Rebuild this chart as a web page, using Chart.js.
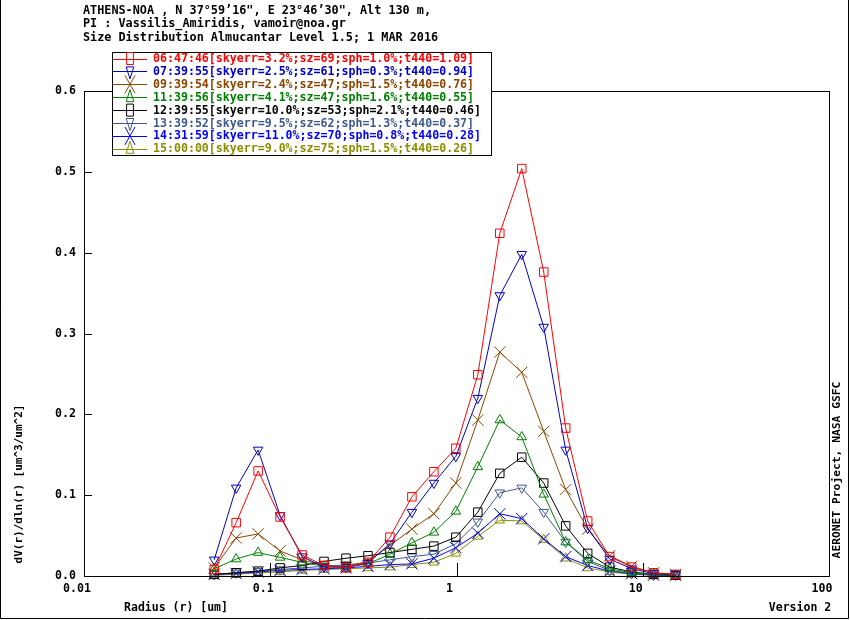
<!DOCTYPE html>
<html><head><meta charset="utf-8">
<script src="https://cdn.jsdelivr.net/npm/chart.js@4.4.0/dist/chart.umd.min.js"></script>
<style>html,body{margin:0;padding:0;background:#fff}canvas{display:block}</style>
</head><body>
<canvas id="c" width="850" height="620"></canvas>
<script>
const radius = [0.05, 0.065604, 0.086077, 0.112939, 0.148184, 0.194429, 0.255105, 0.334716, 0.439173, 0.576227, 0.756052, 0.991996, 1.301571, 1.707757, 2.240702, 2.939966, 3.857452, 5.061260, 6.640745, 8.713145, 11.432287, 15.0];

const seriesLabels = [
  "06:47:46[skyerr=3.2%;sz=69;sph=1.0%;t440=1.09]",
  "07:39:55[skyerr=2.5%;sz=61;sph=0.3%;t440=0.94]",
  "09:39:54[skyerr=2.4%;sz=47;sph=1.5%;t440=0.76]",
  "11:39:56[skyerr=4.1%;sz=47;sph=1.6%;t440=0.55]",
  "12:39:55[skyerr=10.0%;sz=53;sph=2.1%;t440=0.46]",
  "13:39:52[skyerr=9.5%;sz=62;sph=1.3%;t440=0.37]",
  "14:31:59[skyerr=11.0%;sz=70;sph=0.8%;t440=0.28]",
  "15:00:00[skyerr=9.0%;sz=75;sph=1.5%;t440=0.26]"
];

const s064746 = [0.008, 0.066, 0.130, 0.073, 0.026, 0.013, 0.010, 0.017, 0.048, 0.098, 0.129, 0.158, 0.249, 0.424, 0.504, 0.376, 0.183, 0.068, 0.024, 0.011, 0.004, 0.002];
const s073955 = [0.020, 0.109, 0.156, 0.075, 0.024, 0.011, 0.011, 0.016, 0.040, 0.079, 0.115, 0.148, 0.220, 0.347, 0.398, 0.308, 0.156, 0.059, 0.021, 0.009, 0.003, 0.002];
const s093954 = [0.010, 0.047, 0.052, 0.031, 0.020, 0.013, 0.012, 0.018, 0.038, 0.058, 0.077, 0.115, 0.193, 0.277, 0.252, 0.179, 0.107, 0.058, 0.025, 0.012, 0.004, 0.002];
const s113956 = [0.009, 0.021, 0.029, 0.023, 0.017, 0.012, 0.011, 0.015, 0.027, 0.041, 0.054, 0.080, 0.135, 0.193, 0.172, 0.101, 0.042, 0.020, 0.009, 0.004, 0.002, 0.001];
const s123955 = [0.002, 0.004, 0.006, 0.010, 0.013, 0.018, 0.022, 0.025, 0.029, 0.033, 0.037, 0.048, 0.079, 0.127, 0.147, 0.115, 0.062, 0.028, 0.011, 0.005, 0.002, 0.001];
const s133952 = [0.002, 0.004, 0.006, 0.008, 0.010, 0.012, 0.014, 0.016, 0.020, 0.024, 0.027, 0.040, 0.067, 0.103, 0.109, 0.079, 0.042, 0.018, 0.007, 0.003, 0.001, 0.001];
const s143159 = [0.002, 0.003, 0.005, 0.007, 0.008, 0.009, 0.010, 0.012, 0.014, 0.015, 0.022, 0.035, 0.053, 0.077, 0.071, 0.046, 0.024, 0.013, 0.006, 0.003, 0.001, 0.001];
const s150000 = [0.001, 0.002, 0.004, 0.005, 0.007, 0.008, 0.009, 0.010, 0.011, 0.014, 0.017, 0.028, 0.049, 0.069, 0.068, 0.045, 0.022, 0.010, 0.005, 0.002, 0.001, 0.0005];

const seriesValues = [s064746, s073955, s093954, s113956, s123955, s133952, s143159, s150000];
const seriesColors = ["#ff0000", "#0000c0", "#8c4600", "#008000", "#000000", "#405890", "#0000ff", "#8c8c00"];
const seriesMarkers = ["rect", "invtri", "x", "tri", "rect", "invtri", "x", "tri"];

const xTickValues = [0.01, 0.1, 1, 10, 100];
const xTickLabels = ["0.01", "0.1", "1", "10", "100"];

const titleLines = [
  "ATHENS-NOA , N 37\u00b059\u201916\", E 23\u00b046\u201930\", Alt 130 m,",
  "PI : Vassilis_Amiridis, vamoir@noa.gr",
  "Size Distribution Almucantar Level 1.5; 1 MAR 2016"
];

const FONT = "'DejaVu Sans Mono', 'Liberation Mono', monospace";

function styleFor(m) {
  if (m === "rect") return {pointStyle: "rect", rot: 0, r: 6};
  if (m === "invtri") return {pointStyle: "triangle", rot: 180, r: 5.5};
  if (m === "tri") return {pointStyle: "triangle", rot: 0, r: 5.5};
  return {pointStyle: "crossRot", rot: 0, r: 8};
}

const datasets = seriesValues.map((vals, k) => {
  const st = styleFor(seriesMarkers[k]);
  return {
    label: seriesLabels[k],
    data: radius.map((r, i) => ({x: r, y: vals[i]})),
    borderColor: seriesColors[k],
    backgroundColor: "rgba(0,0,0,0)",
    borderWidth: 1,
    pointStyle: st.pointStyle,
    pointRotation: st.rot,
    pointRadius: st.r,
    pointBorderWidth: 1,
    pointBorderColor: seriesColors[k],
    pointBackgroundColor: "rgba(0,0,0,0)",
    tension: 0,
    fill: false,
    clip: false
  };
});

function drawMarker(ctx, m, x, y, sx, sy) {
  ctx.beginPath();
  if (m === "rect") {
    ctx.rect(x - 4 * sx, y - 4 * sy, 8 * sx, 8 * sy);
  } else if (m === "tri" || m === "invtri") {
    const d = m === "tri" ? 1 : -1;
    ctx.moveTo(x, y - d * 5 * sy);
    ctx.lineTo(x - 4.5 * sx, y + d * 3 * sy);
    ctx.lineTo(x + 4.5 * sx, y + d * 3 * sy);
    ctx.closePath();
  } else {
    ctx.moveTo(x - 6 * sx, y - 6 * sy); ctx.lineTo(x + 6 * sx, y + 6 * sy);
    ctx.moveTo(x + 6 * sx, y - 6 * sy); ctx.lineTo(x - 6 * sx, y + 6 * sy);
  }
  ctx.stroke();
}

const decorPlugin = {
  id: "decor",
  afterDraw(chart) {
    const ctx = chart.ctx;
    const a = chart.chartArea;
    const xs = chart.scales.x, ys = chart.scales.y;
    ctx.save();
    ctx.strokeStyle = "#000";
    ctx.lineWidth = 1;
    // outer frame
    ctx.beginPath();
    ctx.moveTo(0.5, 0); ctx.lineTo(0.5, 618.5); ctx.lineTo(848.5, 618.5); ctx.lineTo(848.5, 0);
    ctx.stroke();
    // plot frame
    ctx.strokeRect(Math.round(a.left) + 0.5, Math.round(a.top) + 0.5, Math.round(a.right - a.left), Math.round(a.bottom - a.top));
    // inward ticks
    ctx.beginPath();
    ys.ticks.forEach(t => {
      const py = Math.round(ys.getPixelForValue(t.value)) + 0.5;
      ctx.moveTo(a.left, py); ctx.lineTo(a.left + 8, py);
    });
    xTickValues.forEach(v => {
      const px = Math.round(xs.getPixelForValue(v)) + 0.5;
      ctx.moveTo(px, a.bottom); ctx.lineTo(px, a.bottom - 13);
    });
    ctx.stroke();

    ctx.fillStyle = "#000";
    ctx.textBaseline = "middle";
    ctx.textAlign = "left";
    ctx.font = "bold 11.8px " + FONT;
    titleLines.forEach((t, i) => ctx.fillText(t, 83, 10.5 + i * 13.6));

    // axis titles
    ctx.font = "bold 11.5px " + FONT;
    ctx.textAlign = "center";
    ctx.fillText("Radius (r) [um]", 176, 608);
    ctx.fillText("Version 2", 800, 608);
    ctx.save();
    ctx.translate(19, 484);
    ctx.rotate(-Math.PI / 2);
    ctx.font = "bold 11px " + FONT;
    ctx.fillText("dV(r)/dln(r) [um^3/um^2]", 0, 0);
    ctx.restore();
    ctx.save();
    ctx.translate(837, 470);
    ctx.rotate(-Math.PI / 2);
    ctx.font = "bold 11.3px " + FONT;
    ctx.fillText("AERONET Project, NASA GSFC", 0, 0);
    ctx.restore();

    // legend
    const bx = 112, by = 52, bw = 379, bh = 103;
    ctx.fillStyle = "#fff";
    ctx.fillRect(bx, by, bw, bh);
    ctx.strokeStyle = "#000";
    ctx.strokeRect(bx + 0.5, by + 0.5, bw, bh);
    ctx.font = "bold 11.6px " + FONT;
    ctx.textAlign = "left";
    chart.data.datasets.forEach((ds, k) => {
      const y = 58.5 + k * 12.9;
      const col = seriesColors[k];
      ctx.strokeStyle = col;
      ctx.lineWidth = 1;
      ctx.beginPath();
      ctx.moveTo(bx + 1, Math.round(y) + 0.5); ctx.lineTo(147, Math.round(y) + 0.5);
      ctx.stroke();
      drawMarker(ctx, seriesMarkers[k], 130, y, 0.85, 1.5);
      ctx.fillStyle = col;
      ctx.fillText(ds.label, 153, y + 0.5);
    });
    ctx.restore();
  }
};

new Chart(document.getElementById("c"), {
  type: "line",
  data: {datasets},
  options: {
    responsive: false,
    animation: false,
    devicePixelRatio: 1,
    layout: {padding: {top: 91, right: 21, left: 0, bottom: 0}},
    plugins: {legend: {display: false}, tooltip: {enabled: false}},
    scales: {
      x: {
        type: "logarithmic",
        min: 0.01, max: 100,
        afterBuildTicks: s => { s.ticks = xTickValues.map(v => ({value: v, major: true})); },
        afterFit: s => { s.height = 44; },
        grid: {display: false, drawTicks: false},
        border: {display: false},
        ticks: {
          callback: (v, i) => xTickLabels[i],
          font: {family: FONT, size: 11.6, weight: "bold"},
          color: "#000", padding: 6, maxRotation: 0, autoSkip: false, labelOffset: -7
        }
      },
      y: {
        type: "linear",
        min: 0, max: 0.6,
        afterFit: s => { s.width = 84; },
        grid: {display: false, drawTicks: false},
        border: {display: false},
        ticks: {
          stepSize: 0.1,
          callback: v => Number(v).toFixed(1),
          font: {family: FONT, size: 11.6, weight: "bold"},
          color: "#000", padding: 8
        }
      }
    }
  },
  plugins: [decorPlugin]
});
</script>
</body></html>
